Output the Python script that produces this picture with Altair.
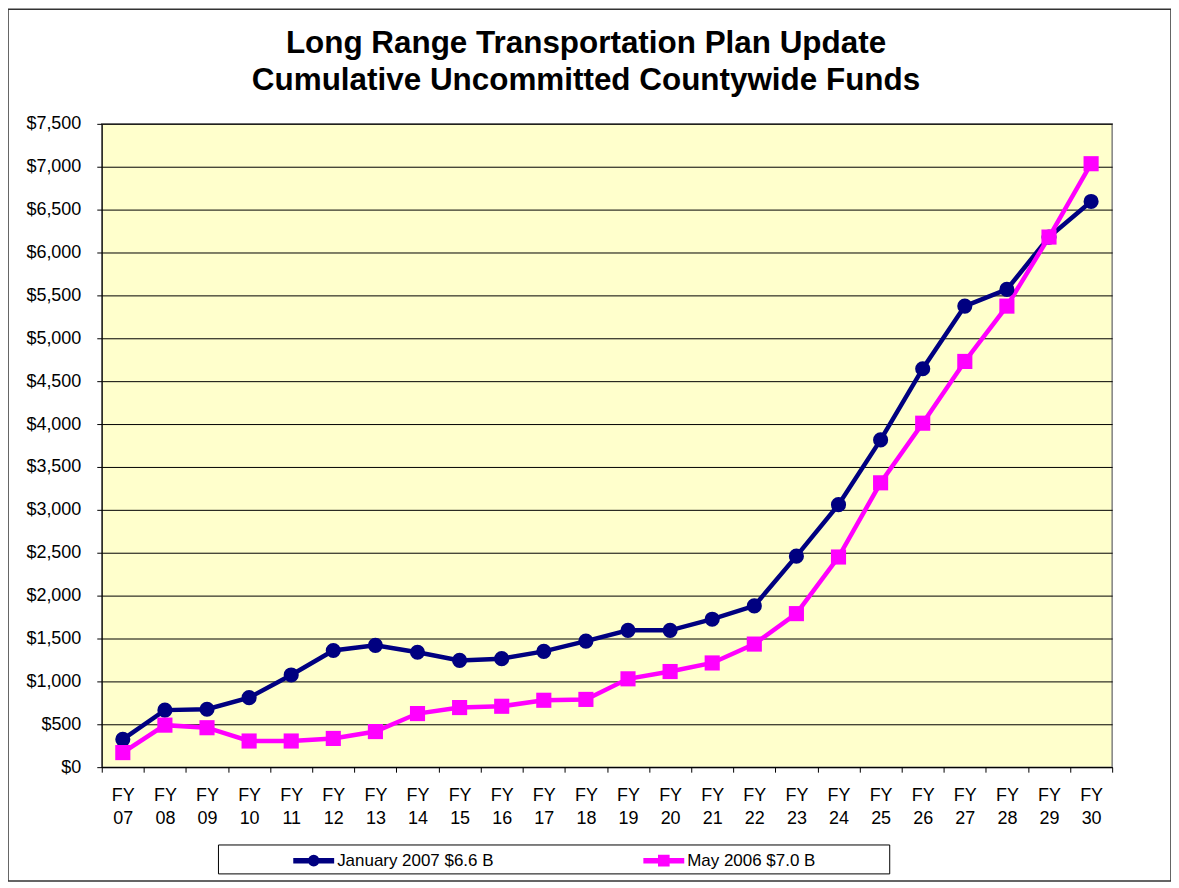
import altair as alt
import pandas as pd

fiscal_years = ["07", "08", "09", "10", "11", "12", "13", "14", "15", "16", "17", "18",
                "19", "20", "21", "22", "23", "24", "25", "26", "27", "28", "29", "30"]
series_names = ["January 2007 $6.6 B", "May 2006 $7.0 B"]
jan_2007 = [325, 665, 675, 810, 1075, 1360, 1420, 1340, 1245, 1265, 1350, 1470,
            1595, 1595, 1725, 1880, 2460, 3060, 3815, 4645, 5375, 5570, 6180, 6595]
may_2006 = [170, 490, 460, 305, 305, 335, 415, 625, 695, 710, 780, 790,
            1030, 1115, 1215, 1435, 1790, 2450, 3315, 4010, 4730, 5375, 6180, 7035]
y_ticks = list(range(0, 7501, 500))
title_lines = ["Long Range Transportation Plan Update", "Cumulative Uncommitted Countywide Funds"]
series_colors = ["#000080", "#FF00FF"]
series_shapes = ["circle", "square"]

rows = []
for name, vals in zip(series_names, [jan_2007, may_2006]):
    for fy, v in zip(fiscal_years, vals):
        rows.append({"fy": fy, "value": v, "series": name})
df = pd.DataFrame(rows)

FONT = "Liberation Sans"
W, H = 1013, 645

# legend glyphs: a line segment with a marker in the middle
legend_shapes = [
    "M-1,0L1,0M-0.15,0A0.15,0.15 0 1,0 0.15,0A0.15,0.15 0 1,0 -0.15,0Z",
    "M-1,0L1,0M-0.15,-0.15L0.15,-0.15L0.15,0.15L-0.15,0.15Z",
]

x_enc = alt.X("fy:N", sort=fiscal_years, title=None,
              scale=alt.Scale(paddingInner=0, paddingOuter=0),
              axis=alt.Axis(labelExpr="datum.label ? ['FY', datum.label] : ''", labelAngle=0,
                            labelFont=FONT, labelFontSize=18, labelLineHeight=23,
                            labelColor="black", labelPadding=14, tickBand="extent",
                            tickSize=5, tickColor="black", domainColor="black",
                            grid=False))
y_enc = alt.Y("value:Q", title=None,
              scale=alt.Scale(domain=[0, 7500], nice=False),
              axis=alt.Axis(values=y_ticks, format="$,.0f", labelFont=FONT,
                            labelFontSize=18, labelColor="black", labelPadding=16,
                            tickSize=5, tickColor="black", domainColor="black",
                            grid=True, gridColor="black", gridWidth=1))

def color_enc(legend):
    return alt.Color("series:N", sort=series_names,
                     scale=alt.Scale(domain=series_names, range=series_colors),
                     legend=legend)

plot_legend = alt.Legend(
    orient="none", legendX=189, legendY=715, direction="horizontal", title=None,
    padding=0, labelFont=FONT, labelFontSize=17, labelColor="black",
    labelOffset=0, columnPadding=139, symbolSize=1681, symbolStrokeWidth=5.5,
    symbolOpacity=1)

frame = alt.Chart(alt.Data(values=[{}])).mark_rect(
    fill="transparent", stroke="#333333", strokeWidth=1.5
).encode(x=alt.value(-94), x2=alt.value(1072), y=alt.value(-115), y2=alt.value(759))

legend_box = alt.Chart(alt.Data(values=[{}])).mark_rect(
    fill="white", stroke="black", strokeWidth=1
).encode(x=alt.value(117), x2=alt.value(790), y=alt.value(723), y2=alt.value(752))

base = alt.Chart(df)
lines = base.mark_line(strokeWidth=4.5).encode(x=x_enc, y=y_enc, color=color_enc(None))
points = base.mark_point(filled=True, size=230, opacity=1).encode(
    x=x_enc, y=y_enc, color=color_enc(None),
    shape=alt.Shape("series:N", sort=series_names,
                    scale=alt.Scale(domain=series_names, range=series_shapes),
                    legend=None))
legend_layer = base.mark_point(filled=False, opacity=0).encode(
    x=x_enc, y=y_enc, color=color_enc(plot_legend),
    shape=alt.Shape("series:N", sort=series_names,
                    scale=alt.Scale(domain=series_names, range=legend_shapes),
                    legend=plot_legend))

chart = alt.layer(frame, lines, points, legend_box, legend_layer).resolve_scale(
    color="independent", shape="independent"
).properties(
    width=W, height=H,
    autosize=alt.AutoSizeParams(type="none"),
    padding={"left": 94, "top": 115, "right": 59, "bottom": 116},
    background="white",
    title=alt.TitleParams(text=title_lines, font=FONT, fontSize=31.5, fontWeight="bold",
                          color="black", anchor="middle", dx=-21, dy=114, lineHeight=37,
                          offset=26, frame="group"),
).configure_view(fill="#FFFFCC", stroke="#808080", strokeWidth=1.5)

chart.save("out.html", embed_options={"renderer": "svg", "actions": False})
